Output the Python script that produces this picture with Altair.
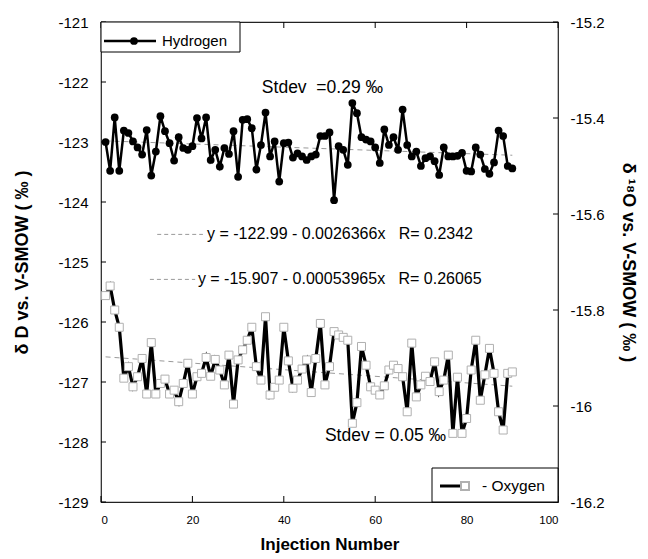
import altair as alt
import pandas as pd

# ---------------- data ----------------
injection = list(range(1, 91))

hydrogen = [
    -123.00, -123.48, -122.59, -123.48, -122.81, -122.85, -122.99, -123.09, -123.21, -122.80,
    -123.56, -123.16, -122.57, -122.82, -123.02, -123.31, -122.92, -123.10, -123.13, -123.07,
    -122.60, -122.94, -122.59, -123.30, -123.13, -123.41, -123.10, -123.20, -122.82, -123.58,
    -122.63, -122.62, -122.77, -123.46, -123.05, -122.51, -123.24, -122.99, -123.66, -123.02,
    -123.01, -123.26, -123.19, -123.24, -123.30, -123.24, -123.21, -122.90, -122.90, -122.84,
    -123.97, -123.07, -123.13, -123.38, -122.35, -122.52, -122.92, -122.96, -122.99, -123.09,
    -123.35, -122.79, -123.05, -122.92, -123.13, -122.46, -123.05, -123.24, -123.16, -123.40,
    -123.27, -123.24, -123.32, -123.55, -123.09, -123.24, -123.24, -123.23, -123.18, -123.48,
    -123.49, -123.09, -123.21, -123.45, -123.53, -123.34, -122.81, -122.90, -123.40, -123.44,
]

oxygen = [
    -15.770, -15.750, -15.800, -15.836, -15.942, -15.918, -15.960, -15.939, -15.901, -15.975,
    -15.868, -15.975, -15.953, -15.944, -15.975, -15.967, -15.991, -15.953, -15.911, -15.975,
    -15.939, -15.932, -15.899, -15.938, -15.903, -15.925, -15.956, -15.894, -15.996, -15.904,
    -15.883, -15.863, -15.836, -15.918, -15.946, -15.814, -15.977, -15.961, -15.946, -15.836,
    -15.906, -15.963, -15.946, -15.923, -15.904, -15.972, -15.901, -15.828, -15.956, -15.918,
    -15.845, -15.852, -15.857, -15.863, -16.036, -15.993, -15.876, -15.915, -15.960, -15.967,
    -15.977, -15.958, -15.925, -15.915, -15.922, -15.939, -16.012, -15.869, -15.981, -15.956,
    -15.938, -15.949, -15.908, -15.970, -15.946, -15.894, -16.057, -15.940, -16.057, -16.026,
    -15.925, -15.863, -15.988, -15.935, -15.880, -15.932, -16.012, -16.050, -15.932, -15.929,
]

left_ticks = [-129, -128, -127, -126, -125, -124, -123, -122, -121]
right_ticks = [-16.2, -16.0, -15.8, -15.6, -15.4, -15.2]
x_ticks = [0, 20, 40, 60, 80, 100]

NB = "\u00a0"
annot_x = [35.2, 23.2, 21.2, 49.0]
annot_y = [-122.10, -124.54, -125.29, -127.90]
annot_text = [
    "Stdev" + NB + NB + "=0.29" + NB + "\u2030",
    "y = -122.99 - 0.0026366x" + NB * 3 + "R= 0.2342",
    "y = -15.907 - 0.00053965x" + NB * 3 + "R= 0.26065",
    "Stdev = 0.05" + NB + "\u2030",
]
annot_size = [17.5, 16, 16, 17.5]
dash_x1 = [12.3, 10.7]
dash_x2 = [22.3, 20.6]
dash_y = [-124.54, -125.29]

# ---------------- layout ----------------
W, H = 457, 480
FONT = "Liberation Sans"

df = pd.DataFrame({"n": injection, "h": hydrogen, "o": oxygen})
annot_df = pd.DataFrame({"x": annot_x, "y": annot_y, "t": annot_text, "s": annot_size})
dash_df = pd.DataFrame({"x1": dash_x1, "x2": dash_x2, "y": dash_y})
one = pd.DataFrame({"a": [0]})

xs = alt.Scale(domain=[0, 100], nice=False, zero=False)
ys_l = alt.Scale(domain=[-129, -121], nice=False, zero=False)
ys_r = alt.Scale(domain=[-16.2, -15.2], nice=False, zero=False)

x_axis = alt.Axis(values=x_ticks, title="Injection Number", ticks=False, domain=False,
                  grid=False, labelFontSize=11.5, labelPadding=12, titleFontSize=17,
                  titleFontWeight="bold", titlePadding=11, labelFont=FONT, titleFont=FONT,
                  labelColor="black", titleColor="black")
left_axis = alt.Axis(values=left_ticks, labelExpr="'' + datum.value",
                     title="\u03b4 D vs. V-SMOW ( \u2030 )", ticks=False, domain=False, grid=False,
                     labelFontSize=15, labelPadding=13, titleFontSize=18, titleFontWeight="bold",
                     titlePadding=26, labelFont=FONT, titleFont=FONT,
                     labelColor="black", titleColor="black")
right_axis = alt.Axis(orient="right", values=right_ticks, labelExpr="'' + datum.value",
                      title="\u03b4 \u00b9\u2078O vs. V-SMOW ( \u2030 )", ticks=False, domain=False,
                      grid=False, labelFontSize=15, labelPadding=12, titleFontSize=18,
                      titleFontWeight="bold", titlePadding=14, labelFont=FONT, titleFont=FONT,
                      labelColor="black", titleColor="black")

base = alt.Chart(df)

# ----- hydrogen (left axis) -----
h_trend = base.transform_regression("n", "h").mark_line(
    color="#9a9a9a", strokeDash=[5, 4], strokeWidth=1
).encode(x=alt.X("n:Q", scale=xs, axis=x_axis), y=alt.Y("h:Q", scale=ys_l, axis=left_axis))
h_line = base.mark_line(color="black", strokeWidth=2.5).encode(
    x=alt.X("n:Q", scale=xs), y=alt.Y("h:Q", scale=ys_l))
h_pts = base.mark_circle(color="black", size=60, opacity=1).encode(
    x=alt.X("n:Q", scale=xs), y=alt.Y("h:Q", scale=ys_l))

ltick_df = pd.DataFrame({"h": left_ticks})
xtick_df = pd.DataFrame({"n": x_ticks})
l_ticks = alt.Chart(ltick_df).mark_rule(color="black").encode(
    y=alt.Y("h:Q", scale=ys_l), x=alt.value(0), x2=alt.value(5))
x_ticks_b = alt.Chart(xtick_df).mark_rule(color="black").encode(
    x=alt.X("n:Q", scale=xs), y=alt.value(H - 6), y2=alt.value(H))
x_ticks_t = alt.Chart(xtick_df).mark_rule(color="black").encode(
    x=alt.X("n:Q", scale=xs), y=alt.value(0), y2=alt.value(6))

annots = alt.Chart(annot_df).mark_text(align="left", baseline="middle", font=FONT,
                                       color="black").encode(
    x=alt.X("x:Q", scale=xs), y=alt.Y("y:Q", scale=ys_l),
    text="t:N", size=alt.Size("s:Q", scale=None, legend=None))
dashes = alt.Chart(dash_df).mark_rule(color="#9a9a9a", strokeDash=[4, 3], strokeWidth=1).encode(
    x=alt.X("x1:Q", scale=xs), x2="x2:Q", y=alt.Y("y:Q", scale=ys_l))

# hydrogen legend box
hl_box = alt.Chart(one).mark_rect(fill="white", stroke="black", strokeWidth=1).encode(
    x=alt.value(0), x2=alt.value(139), y=alt.value(0), y2=alt.value(30))
hl_line = alt.Chart(one).mark_rule(color="black", strokeWidth=2.5).encode(
    x=alt.value(3), x2=alt.value(55), y=alt.value(19), y2=alt.value(19))
hl_dot = alt.Chart(one).mark_circle(color="black", size=60, opacity=1).encode(
    x=alt.value(33), y=alt.value(19))
hl_text = alt.Chart(one).mark_text(align="left", baseline="middle", font=FONT, fontSize=15,
                                   color="black", text="Hydrogen").encode(
    x=alt.value(61), y=alt.value(19))

left_layer = alt.layer(h_trend, h_line, h_pts, l_ticks, x_ticks_b, x_ticks_t,
                       dashes, annots, hl_box, hl_line, hl_dot, hl_text)

# ----- oxygen (right axis) -----
o_trend = base.transform_regression("n", "o").mark_line(
    color="#9a9a9a", strokeDash=[5, 4], strokeWidth=1
).encode(x=alt.X("n:Q", scale=xs), y=alt.Y("o:Q", scale=ys_r, axis=right_axis))
o_line = base.mark_line(color="black", strokeWidth=3.2).encode(
    x=alt.X("n:Q", scale=xs), y=alt.Y("o:Q", scale=ys_r))
o_pts = base.mark_square(fill="white", stroke="#b0b0b0", strokeWidth=1, size=64,
                         opacity=1, filled=False).encode(
    x=alt.X("n:Q", scale=xs), y=alt.Y("o:Q", scale=ys_r))
rtick_df = pd.DataFrame({"o": right_ticks})
r_ticks = alt.Chart(rtick_df).mark_rule(color="black").encode(
    y=alt.Y("o:Q", scale=ys_r), x=alt.value(W - 5), x2=alt.value(W))

ol_box = alt.Chart(one).mark_rect(fill="white", stroke="black", strokeWidth=1).encode(
    x=alt.value(331), x2=alt.value(W), y=alt.value(446), y2=alt.value(H))
ol_line = alt.Chart(one).mark_rule(color="black", strokeWidth=3).encode(
    x=alt.value(339), x2=alt.value(364), y=alt.value(464), y2=alt.value(464))
ol_sq = alt.Chart(one).mark_square(fill="white", stroke="#b0b0b0", size=64, opacity=1,
                                   filled=False).encode(x=alt.value(364), y=alt.value(464))
ol_text = alt.Chart(one).mark_text(align="left", baseline="middle", font=FONT, fontSize=15.5,
                                   color="black", text="- Oxygen").encode(
    x=alt.value(381), y=alt.value(464))

right_layer = alt.layer(o_trend, o_line, o_pts, r_ticks, ol_box, ol_line, ol_sq, ol_text)

chart = alt.layer(left_layer, right_layer).resolve_scale(y="independent").properties(
    width=W, height=H,
    padding={"left": 101, "top": 22, "right": 90, "bottom": 57},
    autosize=alt.AutoSizeParams(type="none"),
    background="white",
).configure_view(stroke="#222222", strokeWidth=1.2)

chart.save("out.html", embed_options={"renderer": "svg", "actions": False})
